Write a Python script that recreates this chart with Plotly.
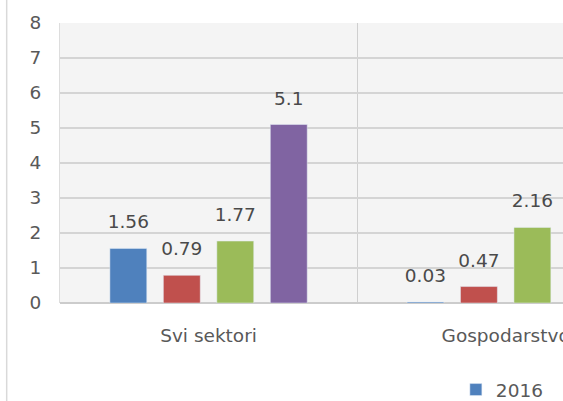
import plotly.graph_objects as go

categories = ["Svi sektori", "Gospodarstvo"]
series_names = ["2016", "2017", "2018", "2019"]
v2016 = [1.56, 0.03]
v2017 = [0.79, 0.47]
v2018 = [1.77, 2.16]
v2019 = [5.1, None]

values = [v2016, v2017, v2018, v2019]
colors = ["#4F81BD", "#C0504D", "#9BBB59", "#8064A2"]
FONT = "DejaVu Sans"
FS = 18.5

fig = go.Figure()
for i, (name, vals, col) in enumerate(zip(series_names, values, colors)):
    fig.add_trace(go.Bar(
        x=categories, y=vals, name=name, marker_color=col,
        offsetgroup=str(i), showlegend=(i == 0), cliponaxis=False,
    ))
for i, (name, vals) in enumerate(zip(series_names, values)):
    fig.add_trace(go.Scatter(
        x=categories, y=vals, mode="markers+text", offsetgroup=str(i),
        text=[("" if v is None else f"{v:g}") for v in vals],
        textposition="top center",
        marker=dict(size=23, opacity=0),
        textfont=dict(family=FONT, size=FS, color="#4a4a4a"),
        showlegend=False, hoverinfo="skip", cliponaxis=False,
    ))

fig.update_layout(
    width=563, height=401,
    margin=dict(l=60, r=0, t=23, b=98, autoexpand=False),
    barmode="group", bargap=0.28, bargroupgap=0.31,
    scattermode="group", scattergap=0.28,
    paper_bgcolor="white", plot_bgcolor="#f4f4f4",
    font=dict(family=FONT, size=FS, color="#595959"),
    legend=dict(orientation="h", x=0.787, xanchor="left", y=-0.243, yanchor="top",
                font=dict(family=FONT, size=FS, color="#595959"),
                bgcolor="rgba(0,0,0,0)"),
    xaxis=dict(range=[-0.5, 1.193], showgrid=True, gridcolor="#cfcfcf",
               tickson="boundaries", ticks="", ticklabelstandoff=19,
               showline=False, zeroline=False),
    yaxis=dict(range=[0, 8], dtick=1, showgrid=True, gridcolor="#d4d4d4",
               gridwidth=1.5, zeroline=True, zerolinecolor="#cccccc",
               ticks="", ticklabelstandoff=14, showline=True,
               linecolor="#dddddd"),
    shapes=[dict(type="line", xref="paper", yref="paper", x0=-0.106, x1=-0.106,
                 y0=-0.36, y1=1.09, line=dict(color="#d9d9d9", width=1.5))],
)

fig.write_html("out.html", config={"displayModeBar": False},
               post_script="document.body.style.margin='0';document.body.style.overflow='hidden';")
